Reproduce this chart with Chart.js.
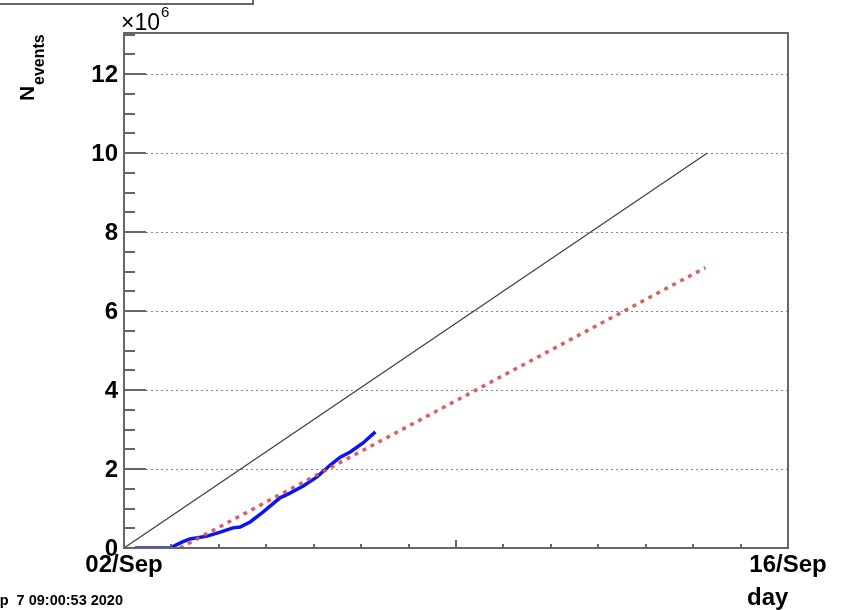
<!DOCTYPE html>
<html>
<head>
<meta charset="utf-8">
<script src="https://cdn.jsdelivr.net/npm/chart.js@4"></script>
<style>
  body { margin: 0; background: #fff; }
  #wrap { width: 844px; height: 610px; }
</style>
</head>
<body>
<div id="wrap"><canvas id="myCanvas" width="844" height="610"></canvas></div>
<script>
// days since 02/Sep 00:00, events in millions
var dayValues = [0.23, 0.97, 1.22, 1.39, 1.75, 2.03, 2.30, 2.45, 2.66, 2.93, 3.29, 3.50, 3.78, 4.07, 4.35, 4.56, 4.77, 5.04, 5.30];
var eventValues = [0, 0, 0.15, 0.23, 0.30, 0.40, 0.51, 0.53, 0.66, 0.91, 1.27, 1.39, 1.57, 1.80, 2.10, 2.30, 2.43, 2.66, 2.94];

var targetDays = [0, 12.3];
var targetEvents = [0, 10];

var projDays = [1.18, 12.26];
var projEvents = [0, 7.1];

var xTickLabels = ['02/Sep', '16/Sep'];
var xTickDays = [0, 14];
var yTickValues = [0, 2, 4, 6, 8, 10, 12];

function toPoints(xs, ys) {
	var pts = [];
	for (var i in xs) {
		pts.push({x: xs[i], y: ys[i]});
	}
	return pts;
}

var FONT = '"Liberation Sans", Arial, sans-serif';

var framePlugin = {
	id: 'frame',
	beforeDatasetsDraw: function(chart) {
		var ctx = chart.ctx;
		var a = chart.chartArea;
		var ys = chart.scales.y;
		ctx.save();
		// dotted grid on major y values
		ctx.strokeStyle = '#888';
		ctx.lineWidth = 1;
		ctx.setLineDash([2, 3]);
		for (var i in yTickValues) {
			if (yTickValues[i] == 0) continue;
			var py = Math.round(ys.getPixelForValue(yTickValues[i])) + 0.5;
			ctx.beginPath();
			ctx.moveTo(a.left + 22, py);
			ctx.lineTo(a.right, py);
			ctx.stroke();
		}
		ctx.restore();
	},
	afterDatasetsDraw: function(chart) {
		var ctx = chart.ctx;
		var a = chart.chartArea;
		var xs = chart.scales.x, ys = chart.scales.y;
		ctx.save();
		ctx.strokeStyle = '#666';
		ctx.lineWidth = 2;
		ctx.setLineDash([]);
		ctx.strokeRect(a.left, a.top, a.right - a.left, a.bottom - a.top);

		// y ticks
		for (var v = 0; v <= 13; v += 0.5) {
			var py = Math.round(ys.getPixelForValue(v));
			var major = (v % 2 == 0);
			ctx.beginPath();
			ctx.moveTo(a.left, py);
			ctx.lineTo(a.left + (major ? 22 : 11), py);
			ctx.stroke();
		}
		// x ticks
		for (var d = 1; d < 14; d++) {
			var px = Math.round(xs.getPixelForValue(d));
			ctx.beginPath();
			ctx.moveTo(px, a.bottom);
			ctx.lineTo(px, a.bottom - (d == 7 ? 8 : 4));
			ctx.stroke();
		}

		// labels
		ctx.fillStyle = '#000';
		ctx.font = 'bold 24px ' + FONT;
		ctx.textAlign = 'right';
		ctx.textBaseline = 'alphabetic';
		for (var i in yTickValues) {
			ctx.fillText(String(yTickValues[i]), a.left - 6, ys.getPixelForValue(yTickValues[i]) + 8);
		}
		ctx.textAlign = 'center';
		for (var i in xTickLabels) {
			ctx.fillText(xTickLabels[i], xs.getPixelForValue(xTickDays[i]), 572);
		}
		ctx.textAlign = 'left';
		ctx.fillText('day', 747, 605);

		// x10^6
		ctx.font = '23px ' + FONT;
		ctx.fillText('\u00d710', 121, 30);
		ctx.font = '15px ' + FONT;
		ctx.fillText('6', 161, 17);

		// y title
		ctx.save();
		ctx.translate(34, 101);
		ctx.rotate(-Math.PI / 2);
		ctx.font = 'bold 21px ' + FONT;
		ctx.fillText('N', 0, 0);
		ctx.font = 'bold 16px ' + FONT;
		ctx.fillText('events', 16, 10);
		ctx.restore();

		// timestamp
		ctx.font = 'bold 14.5px ' + FONT;
		ctx.textAlign = 'right';
		ctx.fillText('Mon Sep  7 09:00:53 2020', 123, 605);

		// partial title box
		ctx.strokeStyle = '#666';
		ctx.lineWidth = 2;
		ctx.strokeRect(-2, -10, 255, 14);
		ctx.restore();
	}
};

var chartdata = {
	datasets: [
		{
			label: 'target',
			data: toPoints(targetDays, targetEvents),
			borderColor: '#444',
			borderWidth: 1.3,
			pointRadius: 0,
			tension: 0
		},
		{
			label: 'projection',
			data: toPoints(projDays, projEvents),
			borderColor: 'rgba(214,80,80,0.9)',
			borderWidth: 3.5,
			borderDash: [4, 5],
			pointRadius: 0,
			tension: 0
		},
		{
			label: 'recorded',
			data: toPoints(dayValues, eventValues),
			borderColor: '#0a14f5',
			borderWidth: 3.5,
			pointRadius: 0,
			tension: 0
		}
	]
};

var ctx = document.getElementById('myCanvas');

var lineGraph = new Chart(ctx, {
	type: 'line',
	data: chartdata,
	options: {
		responsive: false,
		animation: false,
		layout: { padding: { left: 124, right: 56, top: 33, bottom: 62 } },
		plugins: { legend: { display: false }, tooltip: { enabled: false } },
		scales: {
			x: { type: 'linear', min: 0, max: 14, display: false },
			y: { type: 'linear', min: 0, max: 13.04, display: false }
		}
	},
	plugins: [framePlugin]
});
</script>
</body>
</html>
